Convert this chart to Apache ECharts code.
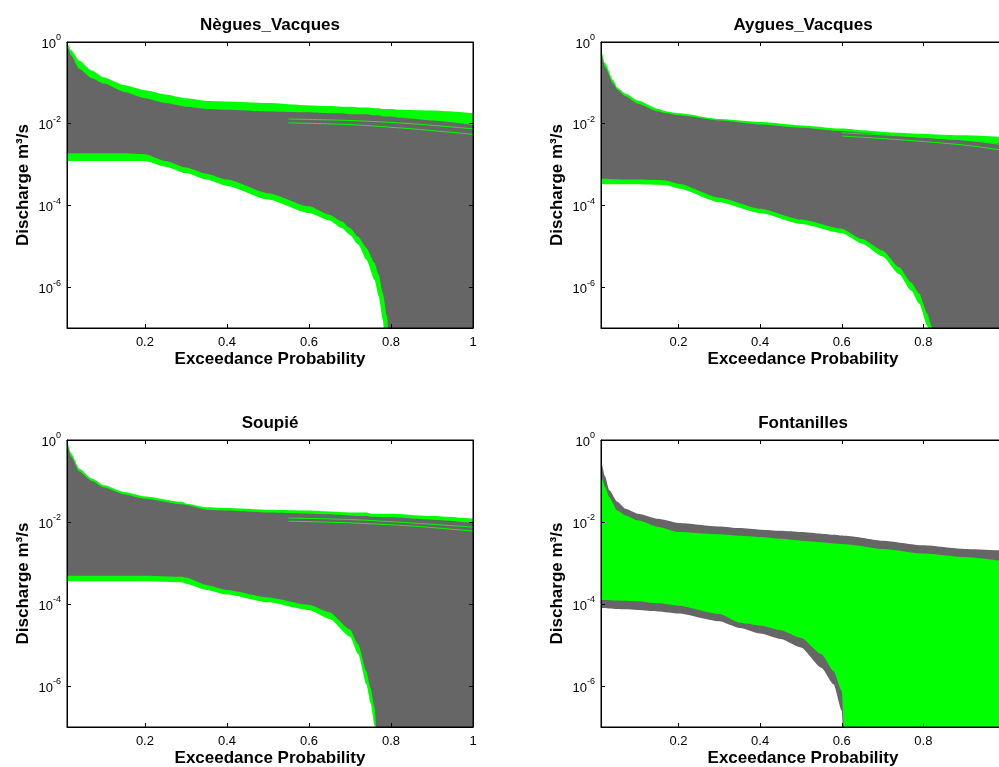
<!DOCTYPE html>
<html>
<head>
<meta charset="utf-8">
<title>Flow duration curves</title>
<script src="https://cdn.jsdelivr.net/npm/echarts@6/dist/echarts.min.js"></script>
<style>
  html, body { margin: 0; padding: 0; background: #fff; }
  #chart { width: 999px; height: 767px; }
</style>
</head>
<body>
<div id="chart"></div>
<script>
// exceedance probability (x) and discharge envelopes (m3/s)
// 1e-10 = curve has dropped below the axis (zero flow)

// Nègues_Vacques
const negProb     = [0.01, 0.02, 0.04, 0.07, 0.1, 0.15, 0.2, 0.25, 0.3, 0.35, 0.4, 0.5, 0.6, 0.65, 0.68, 0.7, 0.72, 0.74, 0.76, 0.77, 0.78, 0.79, 0.8, 0.82, 0.9, 1.0];
const negTopOuter = [1.0, 0.63, 0.35, 0.2, 0.135, 0.087, 0.066, 0.052, 0.042, 0.036, 0.035, 0.032, 0.028, 0.027, 0.026, 0.026, 0.025, 0.025, 0.024, 0.024, 0.023, 0.023, 0.023, 0.022, 0.021, 0.018];
const negTopInner = [0.9, 0.47, 0.22, 0.13, 0.096, 0.06, 0.042, 0.032, 0.026, 0.023, 0.022, 0.02, 0.019, 0.018, 0.018, 0.017, 0.017, 0.017, 0.016, 0.016, 0.015, 0.015, 0.015, 0.014, 0.012, 0.0093];
const negLowInner = [1.9e-3, 1.9e-3, 1.9e-3, 1.9e-3, 1.9e-3, 1.9e-3, 1.8e-3, 1.23e-3, 8.5e-4, 6e-4, 4.3e-4, 2e-4, 9.5e-5, 5.9e-5, 4.1e-5, 2.8e-5, 1.7e-5, 9.1e-6, 3.9e-6, 2e-6, 7.2e-7, 2e-7, 1e-8, 1e-10, 1e-10, 1e-10];
const negLowOuter = [1.23e-3, 1.23e-3, 1.23e-3, 1.23e-3, 1.23e-3, 1.23e-3, 1.23e-3, 8.9e-4, 6.2e-4, 4.3e-4, 3e-4, 1.4e-4, 6.5e-5, 4.3e-5, 2.8e-5, 1.9e-5, 1.1e-5, 4.7e-6, 1.5e-6, 6e-7, 1.6e-7, 1e-8, 1e-10, 1e-10, 1e-10, 1e-10];
const negStreakProb = [0.55, 0.7, 0.85, 1.0];
const negStreakA    = [0.013, 0.012, 0.01, 0.0075];
const negStreakB    = [0.0105, 0.0095, 0.0075, 0.0055];

// Aygues_Vacques
const aygProb     = [0.01, 0.02, 0.04, 0.05, 0.07, 0.1, 0.15, 0.17, 0.2, 0.3, 0.4, 0.5, 0.6, 0.65, 0.7, 0.74, 0.77, 0.79, 0.81, 0.82, 0.84, 0.9, 1.0];
const aygTopOuter = [0.7, 0.3, 0.115, 0.076, 0.054, 0.037, 0.023, 0.02, 0.018, 0.013, 0.011, 9.1e-3, 7.6e-3, 6.9e-3, 6.3e-3, 6e-3, 5.8e-3, 5.7e-3, 5.6e-3, 5.5e-3, 5.4e-3, 5.2e-3, 4.7e-3];
const aygTopInner = [0.6, 0.24, 0.095, 0.068, 0.047, 0.031, 0.02, 0.018, 0.016, 0.012, 9.6e-3, 8e-3, 6.6e-3, 6e-3, 5.5e-3, 5.1e-3, 4.8e-3, 4.6e-3, 4.5e-3, 4.4e-3, 4.2e-3, 3.9e-3, 3.2e-3];
const aygLowInner = [4.5e-4, 4.5e-4, 4.4e-4, 4.4e-4, 4.3e-4, 4.3e-4, 4.2e-4, 4.1e-4, 3.4e-4, 1.55e-4, 8.3e-5, 4.5e-5, 2.7e-5, 1.5e-5, 7.9e-6, 3.1e-6, 1.3e-6, 6.9e-7, 2.2e-7, 1.1e-7, 1e-9, 1e-10, 1e-10];
const aygLowOuter = [3.3e-4, 3.3e-4, 3.3e-4, 3.3e-4, 3.3e-4, 3.3e-4, 3.2e-4, 3.1e-4, 2.6e-4, 1.2e-4, 6.5e-5, 3.5e-5, 2.1e-5, 1.15e-5, 5.6e-6, 2.1e-6, 8.3e-7, 3.9e-7, 1.1e-7, 1e-8, 1e-10, 1e-10, 1e-10];
const aygStreakProb = [0.6, 0.75, 0.9, 1.0];
const aygStreakA    = [6e-3, 5e-3, 4e-3, 3e-3];
const aygStreakB    = [5e-3, 4e-3, 3e-3, 2.2e-3];

// Soupié
const soupProb     = [0.01, 0.02, 0.04, 0.07, 0.1, 0.15, 0.2, 0.29, 0.3, 0.35, 0.4, 0.5, 0.6, 0.65, 0.7, 0.72, 0.74, 0.75, 0.76, 0.77, 0.8, 0.9, 1.0];
const soupTopOuter = [1.0, 0.47, 0.2, 0.115, 0.079, 0.054, 0.042, 0.031, 0.028, 0.023, 0.022, 0.02, 0.019, 0.018, 0.017, 0.017, 0.017, 0.016, 0.016, 0.016, 0.016, 0.014, 0.012];
const soupTopInner = [0.9, 0.39, 0.17, 0.1, 0.069, 0.047, 0.037, 0.027, 0.026, 0.02, 0.019, 0.017, 0.016, 0.0155, 0.0145, 0.014, 0.014, 0.0135, 0.0135, 0.0133, 0.013, 0.0114, 9.5e-3];
const soupLowInner = [4.9e-4, 4.9e-4, 4.9e-4, 4.9e-4, 4.9e-4, 4.9e-4, 4.9e-4, 4.6e-4, 4.4e-4, 2.9e-4, 2.2e-4, 1.45e-4, 9.6e-5, 6.3e-5, 2.4e-5, 1.05e-5, 2.3e-6, 9e-7, 3e-7, 1e-8, 1e-10, 1e-10, 1e-10];
const soupLowOuter = [3.6e-4, 3.6e-4, 3.6e-4, 3.6e-4, 3.6e-4, 3.6e-4, 3.6e-4, 3.4e-4, 3.1e-4, 2.2e-4, 1.7e-4, 1.1e-4, 7.1e-5, 4.3e-5, 1.6e-5, 6e-6, 1.1e-6, 3.9e-7, 1.1e-7, 1e-9, 1e-10, 1e-10, 1e-10];
const soupStreakProb = [0.55, 0.7, 0.85, 1.0];
const soupStreakA    = [0.0125, 0.0115, 0.0095, 0.0075];
const soupStreakB    = [0.0105, 0.0095, 0.008, 0.006];

// Fontanilles
const fontProb       = [0.01, 0.02, 0.03, 0.05, 0.07, 0.1, 0.15, 0.2, 0.3, 0.35, 0.4, 0.45, 0.5, 0.55, 0.58, 0.6, 0.61, 0.62, 0.7, 0.8, 0.9, 1.0];
const fontTopOuter   = [0.35, 0.13, 0.06, 0.031, 0.021, 0.016, 0.012, 9.5e-3, 7.8e-3, 7.1e-3, 6.5e-3, 6.1e-3, 5.7e-3, 5.2e-3, 4.9e-3, 4.7e-3, 4.6e-3, 4.5e-3, 3.5e-3, 2.7e-3, 2.2e-3, 2.0e-3];
const fontTopInner   = [0.15, 0.072, 0.041, 0.019, 0.0145, 0.011, 7.6e-3, 5.7e-3, 5e-3, 4.6e-3, 4.3e-3, 3.9e-3, 3.5e-3, 3.2e-3, 3.0e-3, 2.9e-3, 2.85e-3, 2.8e-3, 2.2e-3, 1.7e-3, 1.4e-3, 1.1e-3];
const fontLowTop     = [1.26e-4, 1.25e-4, 1.24e-4, 1.22e-4, 1.2e-4, 1.17e-4, 1.04e-4, 9.1e-5, 5.7e-5, 3.5e-5, 3e-5, 2.3e-5, 1.5e-5, 6e-6, 2.3e-6, 7.6e-7, 1e-8, 1e-10, 1e-10, 1e-10, 1e-10, 1e-10];
const fontLowBottom  = [8e-5, 8e-5, 7.8e-5, 7.6e-5, 7.4e-5, 7.1e-5, 6.6e-5, 5.9e-5, 3.8e-5, 2.6e-5, 1.9e-5, 1.4e-5, 8.7e-6, 2.8e-6, 1.1e-6, 2.5e-7, 1e-9, 1e-10, 1e-10, 1e-10, 1e-10, 1e-10];

const xTicks = [0.2, 0.4, 0.6, 0.8, 1];
const yTickExp = [0, 2, 4, 6];   // 10^0, 10^-2, 10^-4, 10^-6

const GREEN = "#00ff00";
const GREY = "#666666";
const FONT = "Liberation Sans, Arial, Helvetica, sans-serif";

const panels = [
  { title: "Nègues_Vacques", prob: negProb,
    layers: [[negTopOuter, GREEN], [negTopInner, GREY], [negLowInner, GREEN], [negLowOuter, "#ffffff"]],
    streaks: [[negStreakProb, negStreakA], [negStreakProb, negStreakB]],
    grid: { left: 67, top: 42, width: 406, height: 286 } },
  { title: "Aygues_Vacques", prob: aygProb,
    layers: [[aygTopOuter, GREEN], [aygTopInner, GREY], [aygLowInner, GREEN], [aygLowOuter, "#ffffff"]],
    streaks: [[aygStreakProb, aygStreakA], [aygStreakProb, aygStreakB]],
    grid: { left: 601, top: 42, width: 404, height: 286 } },
  { title: "Soupié", prob: soupProb,
    layers: [[soupTopOuter, GREEN], [soupTopInner, GREY], [soupLowInner, GREEN], [soupLowOuter, "#ffffff"]],
    streaks: [[soupStreakProb, soupStreakA], [soupStreakProb, soupStreakB]],
    grid: { left: 67, top: 440, width: 406, height: 287 } },
  { title: "Fontanilles", prob: fontProb,
    layers: [[fontTopOuter, GREY], [fontTopInner, GREEN], [fontLowTop, GREY], [fontLowBottom, "#ffffff"]],
    streaks: [],
    grid: { left: 601, top: 440, width: 404, height: 287 } },
];

const chart = echarts.init(document.getElementById("chart"), null, { renderer: "canvas" });

const grids = [], xAxes = [], yAxes = [], series = [], titles = [];

panels.forEach((p, i) => {
  // grid border = the box round each axes (drawn above the filled bands)
  grids.push(Object.assign({
    outerBoundsMode: "none", containLabel: false,
    show: true, zlevel: 1, backgroundColor: "transparent", borderColor: "#000", borderWidth: 1,
  }, p.grid));
  titles.push({
    text: p.title,
    left: p.grid.left + p.grid.width / 2,
    top: p.grid.top - 25,
    textAlign: "center",
    padding: 0,
    textStyle: { fontFamily: FONT, fontSize: 17, fontWeight: "bold", color: "#000" },
  });

  const tickStyle = { show: true, inside: true, length: 4, lineStyle: { color: "#000", width: 1 } };
  // bottom x axis: labels and name only
  xAxes.push({
    gridIndex: i, type: "value", min: 0.01, max: 1, position: "bottom", zlevel: 1,
    name: "Exceedance Probability", nameLocation: "middle", nameGap: 23,
    nameTextStyle: { fontFamily: FONT, fontSize: 17, fontWeight: "bold", color: "#000" },
    axisLine: { show: false, onZero: false },
    axisTick: { show: false },
    axisLabel: { customValues: xTicks, margin: 8, fontFamily: FONT, fontSize: 13, color: "#000", formatter: v => String(v) },
    splitLine: { show: false },
  });
  // bottom x axis: line and ticks
  xAxes.push({
    gridIndex: i, type: "value", min: 0.01, max: 1, position: "bottom", offset: 0, zlevel: 1,
    axisLine: { show: true, onZero: false, lineStyle: { color: "#000", width: 1 } },
    axisTick: Object.assign({ customValues: xTicks }, tickStyle),
    axisLabel: { show: false },
    splitLine: { show: false },
  });
  // top x axis
  xAxes.push({
    gridIndex: i, type: "value", min: 0.01, max: 1, position: "top", zlevel: 1,
    axisLine: { show: true, onZero: false, lineStyle: { color: "#000", width: 1 } },
    axisTick: Object.assign({ customValues: xTicks }, tickStyle),
    axisLabel: { show: false },
    splitLine: { show: false },
  });
  // log axis carrying the data
  yAxes.push({
    gridIndex: i, type: "log", logBase: 10, min: 1e-7, max: 1, show: false,
  });
  // label axis: decades below 10^0, 0 at top
  yAxes.push({
    gridIndex: i, type: "value", min: 0, max: 7, interval: 2, inverse: true, position: "left", zlevel: 1,
    name: "Discharge m³/s", nameLocation: "middle", nameGap: 35, nameRotate: 90,
    nameTextStyle: { fontFamily: FONT, fontSize: 17, fontWeight: "bold", color: "#000" },
    axisLine: { show: true, onZero: false, lineStyle: { color: "#000", width: 1 } },
    axisTick: Object.assign({ customValues: yTickExp }, tickStyle),
    axisLabel: {
      customValues: yTickExp, margin: 6, fontFamily: FONT, color: "#000",
      formatter: v => (v % 2 === 0 && v < 7) ? "{b|10}{s|" + (v === 0 ? "0" : "-" + v) + "}" : "",
      rich: {
        b: { fontFamily: FONT, fontSize: 13, color: "#000", verticalAlign: "bottom", lineHeight: 15 },
        s: { fontFamily: FONT, fontSize: 9, color: "#000", verticalAlign: "bottom", padding: [0, 0, 8, 0] },
      },
    },
    splitLine: { show: false },
  });
  // right box side
  yAxes.push({
    gridIndex: i, type: "value", min: 0, max: 7, interval: 2, inverse: true, position: "right", zlevel: 1,
    axisLine: { show: true, onZero: false, lineStyle: { color: "#000", width: 1 } },
    axisTick: Object.assign({ customValues: yTickExp }, tickStyle),
    axisLabel: { show: false },
    splitLine: { show: false },
  });

  p.layers.forEach(([vals, color]) => {
    series.push({
      type: "line",
      xAxisIndex: i * 3,
      yAxisIndex: i * 3,
      data: p.prob.map((x, k) => [x, vals[k]]),
      symbol: "none",
      silent: true,
      smooth: 0.2,
      smoothMonotone: "x",
      lineStyle: { width: 0, color: color },
      areaStyle: { color: color, opacity: 1, origin: "start" },
      clip: true,
    });
  });

  // a few single simulations that show through the grey
  p.streaks.forEach(([xs, vals]) => {
    series.push({
      type: "line",
      xAxisIndex: i * 3,
      yAxisIndex: i * 3,
      data: xs.map((x, k) => [x, vals[k]]),
      symbol: "none",
      silent: true,
      smooth: 0.3,
      lineStyle: { width: 1, color: GREEN },
      clip: true,
    });
  });
});

chart.setOption({
  backgroundColor: "#ffffff",
  animation: false,
  title: titles,
  grid: grids,
  xAxis: xAxes,
  yAxis: yAxes,
  series: series,
});
</script>
</body>
</html>
